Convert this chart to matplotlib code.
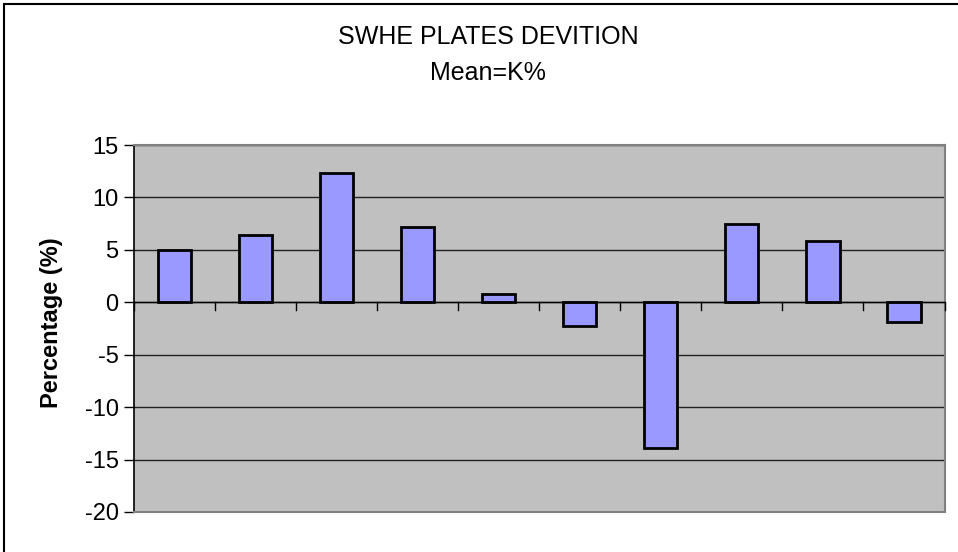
import matplotlib.pyplot as plt
from matplotlib.patches import Rectangle

# Data
plates = list(range(1, 11))
deviation = [5.0, 6.4, 12.3, 7.2, 0.8, -2.3, -13.9, 7.5, 5.8, -1.9]
y_ticks = [-20, -15, -10, -5, 0, 5, 10, 15]

plt.rcParams['font.family'] = ['Liberation Sans', 'DejaVu Sans']

W, H = 958, 552
fig = plt.figure(figsize=(W / 100, H / 100), dpi=100)

# outer chart border (right/bottom edges are cut off in the original)
fig.patches.append(Rectangle((4 / W, -0.1), 1.2, 1 - 3.5 / H + 0.1,
                             transform=fig.transFigure, fill=False,
                             edgecolor='black', linewidth=1.5))

ax = fig.add_axes([134 / W, 1 - 512 / H, (944.5 - 134) / W, (512 - 145) / H])
ax.set_facecolor('#c0c0c0')

ax.bar(plates, deviation, width=0.41, color='#9999ff', edgecolor='black',
       linewidth=2, zorder=3)

ax.set_xlim(0.5, 10.5)
ax.set_ylim(-20, 15)
ax.set_yticks(y_ticks)
ax.set_yticklabels([str(t) for t in y_ticks])
ax.grid(axis='y', color='#202020', linewidth=1, zorder=1)

# category axis crosses at zero with boundary ticks below it
ax.set_xticks([])
ax.axhline(0, color='black', linewidth=1, zorder=4)
for b in [i + 0.5 for i in range(0, 11)]:
    ax.plot([b, b], [0, -0.75], color='black', linewidth=1, zorder=4,
            clip_on=False)

for side in ['top', 'right', 'bottom']:
    ax.spines[side].set_color('#808080')
    ax.spines[side].set_linewidth(1.5)
ax.spines['left'].set_color('black')
ax.spines['left'].set_linewidth(1.2)
ax.tick_params(axis='y', length=7, width=1, labelsize=17, pad=4)

ax.set_ylabel('Percentage (%)', fontsize=17, fontweight='bold')
ax.yaxis.set_label_coords((63 - 134) / (944.5 - 134), (512 - 323) / (512 - 145))

fig.text(488 / W, 1 - 37 / H, 'SWHE PLATES DEVITION', ha='center',
         va='center', fontsize=18)
fig.text(488 / W, 1 - 73 / H, 'Mean=K%', ha='center', va='center',
         fontsize=18)

fig.savefig('out.png', dpi=100)
